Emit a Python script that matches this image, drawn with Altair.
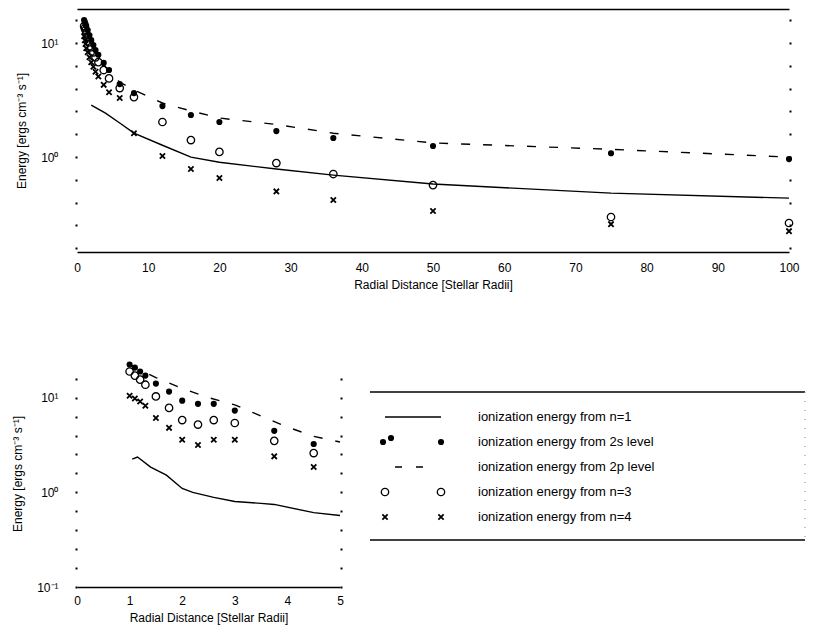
import altair as alt
import pandas as pd

FONT = "Liberation Sans"

# ---------------- outer panel (0 - 100 stellar radii) ----------------
outer_r_points = [1.0, 1.1, 1.2, 1.3, 1.5, 1.75, 2.0, 2.3, 2.6, 3.0, 3.75, 4.5,
                  6, 8, 12, 16, 20, 28, 36, 50, 75, 100]
outer_2s = [15.9, 15.3, 14.7, 14.1, 13.0, 11.7, 10.6, 9.6, 8.7, 7.9, 6.7, 5.8,
            4.37, 3.64, 2.80, 2.34, 2.03, 1.69, 1.47, 1.25, 1.08, 0.96]
outer_n3 = [14.1, 13.5, 13.0, 12.2, 11.3, 10.2, 9.2, 8.3, 7.5, 6.8, 5.8, 4.9,
            4.03, 3.36, 2.03, 1.41, 1.11, 0.886, 0.71, 0.568, 0.298, 0.264]
outer_n4 = [11.5, 10.6, 9.8, 9.0, 8.3, 7.5, 6.8, 6.2, 5.6, 5.1, 4.3, 3.7,
            3.3, 1.62, 1.02, 0.785, 0.655, 0.50, 0.42, 0.336, 0.258, 0.224]
outer_n1_r = [2, 4, 6, 8, 12, 16, 20, 28, 36, 50, 75, 100]
outer_n1 = [2.86, 2.43, 1.99, 1.62, 1.27, 1.0, 0.90, 0.785, 0.695, 0.58, 0.483, 0.436]
outer_2p_r = [1, 2, 3, 4.5, 6, 8, 12, 16, 20, 28, 36, 50, 75, 100]
outer_2p = [14.4, 9.6, 7.5, 5.6, 4.55, 3.87, 2.98, 2.54, 2.2, 1.93, 1.62, 1.33, 1.17, 1.0]

# ---------------- inner panel (0 - 5 stellar radii) ----------------
inner_r_points = [1.0, 1.1, 1.2, 1.3, 1.5, 1.75, 2.0, 2.3, 2.6, 3.0, 3.75, 4.5]
inner_2s = [22.4, 20.8, 18.9, 17.1, 14.1, 11.6, 9.3, 8.6, 8.6, 7.3, 4.46, 3.24]
inner_n3 = [18.9, 17.1, 15.5, 13.7, 10.3, 7.8, 5.8, 5.2, 5.8, 5.4, 3.5, 2.6]
inner_n4 = [10.5, 9.8, 9.1, 8.2, 6.1, 4.8, 3.6, 3.16, 3.6, 3.6, 2.4, 1.85]
inner_n1_r = [1.05, 1.15, 1.4, 1.7, 2.0, 2.2, 2.6, 3.0, 3.5, 3.75, 4.5, 5.0]
inner_n1 = [2.24, 2.36, 1.85, 1.52, 1.10, 1.0, 0.885, 0.80, 0.764, 0.745, 0.61, 0.57]
inner_2p_r = [1.0, 1.5, 2.0, 2.5, 3.0, 3.5, 4.0, 4.5, 5.0]
inner_2p = [22.4, 16.3, 12.5, 10.0, 8.4, 6.4, 4.9, 3.9, 3.4]

outer_x_ticks = [0, 10, 20, 30, 40, 50, 60, 70, 80, 90, 100]
inner_x_ticks = [0, 1, 2, 3, 4, 5]
outer_y_ticks = [10 ** (k / 5) for k in range(-4, 7)]
inner_y_ticks = [10 ** (k / 5) for k in range(-5, 7)]

legend_labels = [
    "ionization energy from n=1",
    "ionization energy from 2s level",
    "ionization energy from 2p level",
    "ionization energy from n=3",
    "ionization energy from n=4",
]

Y_TITLE = "Energy [ergs cm\u207b\u00b3 s\u207b\u00b9]"
X_TITLE = "Radial Distance [Stellar Radii]"
LABEL_EXPR = ("datum.value == 10 ? '10\u00b9' : datum.value == 1 ? '10\u2070' : "
              "datum.value == 0.1 ? '10\u207b\u00b9' : ''")
CROSS = "M -1 -1 L 1 1 M -1 1 L 1 -1"


def panel(r_pts, s2, n3, n4, r1, n1, r2p, v2p, xdom, ydom, xticks, yticks,
          w, h, top_border, lab_pad, title_pad):
    xs = alt.Scale(domain=xdom, nice=False, zero=False)
    ys = alt.Scale(type="log", domain=ydom, nice=False)
    pts = pd.DataFrame({"r": r_pts, "s2": s2, "n3": n3, "n4": n4})
    d1 = pd.DataFrame({"r": r1, "v": n1})
    d2p = pd.DataFrame({"r": r2p, "v": v2p})

    x_main = alt.X("r:Q", scale=xs, axis=alt.Axis(
        title=X_TITLE, values=xticks, grid=False, ticks=False,
        domainColor="black", domainWidth=1.5, labelPadding=lab_pad,
        titlePadding=title_pad, labelFontSize=12, titleFontSize=12,
        labelFlush=False, format="d"))
    y_main = alt.Y("v:Q", scale=ys, axis=alt.Axis(
        title=Y_TITLE, values=yticks, labelExpr=LABEL_EXPR, domain=False,
        tickSize=2, tickWidth=2, tickColor="black", labelPadding=17,
        titlePadding=12, grid=False, labelFontSize=12, titleFontSize=12))

    line1 = alt.Chart(d1).mark_line(color="black", strokeWidth=1.4).encode(
        x=x_main, y=y_main)
    line2p = alt.Chart(d2p).mark_line(color="black", strokeWidth=1.4,
                                      strokeDash=[9, 13]).encode(
        x=alt.X("r:Q", scale=xs, axis=None),
        y=alt.Y("v:Q", scale=ys, axis=None))

    if top_border:
        x_top = alt.X("r:Q", scale=xs, axis=alt.Axis(
            orient="top", labels=False, ticks=False, title=None, grid=False,
            domainColor="black", domainWidth=1.5))
    else:
        x_top = alt.X("r:Q", scale=xs, axis=None)
    y_right = alt.Y("s2:Q", scale=ys, axis=alt.Axis(
        orient="right", values=yticks, labels=False, title=None, domain=False,
        tickSize=2, tickWidth=2, tickColor="black", grid=False))

    p2s = alt.Chart(pts).mark_point(shape="circle", filled=True, color="black",
                                    size=38, opacity=1).encode(x=x_top, y=y_right)
    p3 = alt.Chart(pts).mark_point(shape="circle", filled=False, color="black",
                                   size=55, strokeWidth=1.3, opacity=1).encode(
        x=alt.X("r:Q", scale=xs, axis=None),
        y=alt.Y("n3:Q", scale=ys, axis=None))
    p4 = alt.Chart(pts).mark_point(shape=CROSS, filled=False, color="black",
                                   size=28, strokeWidth=1.8, opacity=1).encode(
        x=alt.X("r:Q", scale=xs, axis=None),
        y=alt.Y("n4:Q", scale=ys, axis=None))

    return alt.layer(line1, line2p, p2s, p3, p4).resolve_axis(
        x="independent", y="independent").properties(width=w, height=h)


top = panel(outer_r_points, outer_2s, outer_n3, outer_n4, outer_n1_r, outer_n1,
            outer_2p_r, outer_2p, [0, 100], [0.147, 19.9], outer_x_ticks,
            outer_y_ticks, 712, 243, True, 10, 6)
bottom = panel(inner_r_points, inner_2s, inner_n3, inner_n4, inner_n1_r, inner_n1,
               inner_2p_r, inner_2p, [0, 5], [0.1, 25], inner_x_ticks,
               inner_y_ticks, 263, 227, False, 8, 6)

# ---------------- legend box ----------------
LW = 435
legend_df = pd.DataFrame({"row": list(range(len(legend_labels))), "label": legend_labels})
ly = alt.Scale(domain=[-2.28, 6.8], reverse=True, nice=False, zero=False)
base = alt.Chart(legend_df)
yrow = alt.Y("row:Q", scale=ly, axis=None)


def sym(row, xpix, **kw):
    return base.transform_filter(alt.datum.row == row).mark_point(
        color="black", opacity=1, **kw).encode(x=alt.value(xpix), y=yrow)


leg_layers = [
    base.mark_text(align="left", baseline="middle", fontSize=13, font=FONT,
                   color="black").encode(x=alt.value(108), y=yrow, text="label:N"),
    base.transform_filter(alt.datum.row == 0).mark_rule(
        color="black", strokeWidth=1.5).encode(x=alt.value(15), x2=alt.value(71), y=yrow),
    base.transform_filter(alt.datum.row == 2).mark_rule(
        color="black", strokeWidth=1.4, strokeDash=[7, 14]).encode(
        x=alt.value(25), x2=alt.value(62), y=yrow),
    sym(1, 13, shape="circle", filled=True, size=38),
    sym(1, 21, shape="circle", filled=True, size=38, yOffset=-4),
    sym(1, 71, shape="circle", filled=True, size=38),
    sym(3, 15, shape="circle", filled=False, size=55, strokeWidth=1.3),
    sym(3, 71, shape="circle", filled=False, size=55, strokeWidth=1.3),
    sym(4, 15, shape=CROSS, filled=False, size=28, strokeWidth=1.8),
    sym(4, 71, shape=CROSS, filled=False, size=28, strokeWidth=1.8),
    base.transform_filter(alt.datum.row == 0).mark_rule(
        color="black", strokeWidth=1.5).encode(
        x=alt.value(0), x2=alt.value(LW), y=alt.Y(datum=-1, scale=ly, axis=None)),
    base.transform_filter(alt.datum.row == 0).mark_rule(
        color="black", strokeWidth=1.5).encode(
        x=alt.value(0), x2=alt.value(LW), y=alt.Y(datum=4.92, scale=ly, axis=None)),
    base.transform_filter(alt.datum.row == 0).mark_rule(
        color="#999999", strokeWidth=1.2, strokeDash=[1, 8]).encode(
        x=alt.value(LW), y=alt.Y(datum=-1, scale=ly, axis=None), y2=alt.datum(4.92)),
]
legend = alt.layer(*leg_layers).properties(width=LW, height=227)

chart = alt.vconcat(
    top,
    alt.hconcat(bottom, legend, spacing=25),
    spacing=70,
).properties(
    padding={"left": 11, "top": 9, "right": 5, "bottom": 2}
).configure_view(stroke=None).configure_axis(
    labelFont=FONT, titleFont=FONT, labelColor="black", titleColor="black",
    titleFontWeight="normal"
).configure_text(font=FONT)

chart.save("out.html", embed_options={"renderer": "svg", "actions": False})
